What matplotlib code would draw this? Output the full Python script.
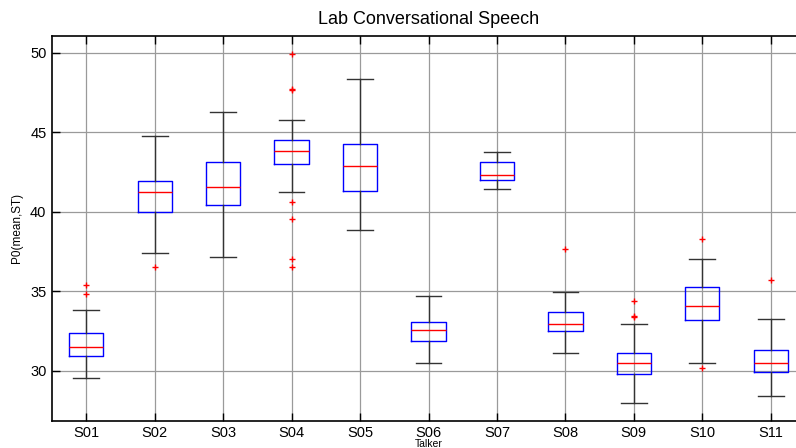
import matplotlib
matplotlib.use("Agg")
from matplotlib import pyplot as plt

plt.rcParams['font.family'] = ['Liberation Sans', 'DejaVu Sans']

talkers = ["S01", "S02", "S03", "S04", "S05", "S06", "S07", "S08", "S09", "S10", "S11"]

# box statistics (ST)
whisLow = [29.54, 37.40, 37.15, 41.24, 38.85, 30.50, 41.45, 31.13, 27.97, 30.46, 28.38]
q1 = [30.92, 40.02, 40.44, 43.00, 41.32, 31.84, 42.03, 32.52, 29.81, 33.19, 29.94]
med = [31.47, 41.24, 41.57, 43.82, 42.91, 32.56, 42.35, 32.96, 30.46, 34.07, 30.46]
q3 = [32.37, 41.97, 43.16, 44.53, 44.30, 33.04, 43.16, 33.71, 31.13, 35.24, 31.30]
whisHigh = [33.82, 44.78, 46.31, 45.81, 48.36, 34.70, 43.77, 34.95, 32.96, 37.06, 33.25]
outliers = [
    [35.37, 34.80],
    [36.50],
    [],
    [49.94, 47.72, 47.65, 40.63, 39.52, 37.02, 36.50],
    [],
    [],
    [],
    [37.65],
    [34.36, 33.44, 33.38],
    [38.30, 30.17],
    [35.72],
]

stats = []
for i in range(len(talkers)):
    stats.append({"label": talkers[i], "whislo": whisLow[i], "q1": q1[i], "med": med[i],
                  "q3": q3[i], "whishi": whisHigh[i], "fliers": outliers[i]})

fig = plt.figure(figsize=(7.96, 4.48), dpi=100)
# right side of the axes runs past the edge of the picture, like the reference
ax = fig.add_axes([52/796, 1-420.7/448, 753/796, 384.7/448])

ax.grid(True, color="#9a9a9a", linewidth=0.9, linestyle="-")
ax.set_axisbelow(True)

ax.bxp(stats, positions=range(1, len(talkers)+1), widths=0.5, capwidths=0.375,
       boxprops=dict(color="#0000ff", linewidth=1.0),
       medianprops=dict(color="#ff0000", linewidth=1.0),
       whiskerprops=dict(color="#333333", linewidth=1.0),
       capprops=dict(color="#333333", linewidth=1.0),
       flierprops=dict(marker="+", markeredgecolor="#ff0000", markersize=5, markeredgewidth=1.0, linestyle="none"))

ax.set_xlim(0.5, 11.5)
ax.set_ylim(26.85, 51.07)
ax.set_yticks([30, 35, 40, 45, 50])
ax.set_xticks(range(1, len(talkers)+1))
ax.set_xticklabels(talkers)
ax.tick_params(direction="in", length=6, width=1, top=True, right=False, labelsize=10.5, pad=4)

for s in ax.spines.values():
    s.set_linewidth(1.2)

ax.set_title("Lab Conversational Speech", fontsize=13, pad=9)
ax.set_xlabel("Talker", fontsize=7.5)
ax.xaxis.set_label_coords(0.5, -0.047)
ax.xaxis.label.set_va("top")
ax.set_ylabel("P0(mean,ST)", fontsize=8.5)
ax.yaxis.set_label_coords(-0.038, 0.5)

plt.savefig("out.png", dpi=100)
